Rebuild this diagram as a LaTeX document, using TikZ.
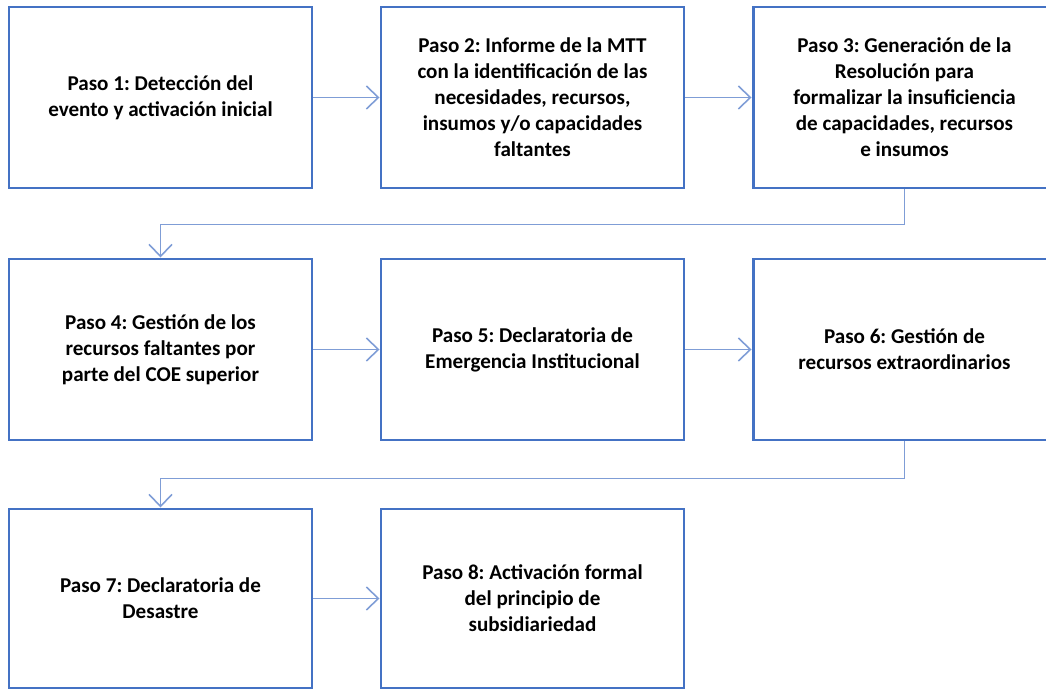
\documentclass[tikz,border=0pt]{standalone}
\usepackage{fontspec}
\setmainfont{Carlito}
\usetikzlibrary{arrows.meta}
\definecolor{boxblue}{HTML}{4472C4}
\definecolor{linkblue}{HTML}{7F9DD6}
\frenchspacing

\begin{document}
\begin{tikzpicture}[font=\fontsize{12}{14.8}\selectfont\bfseries]
\tikzstyle{stepBox}=[draw=boxblue, line width=1.7pt, minimum width=6.06cm, minimum height=3.62cm, align=center, inner sep=2pt]
\tikzstyle{linkArrow}=[draw=linkblue, line width=0.9pt, -{Straight Barb[length=2.4mm, width=4.6mm]}]
\useasboundingbox (0,0) rectangle (20.92,13.82);
\node[stepBox] (p1) at (3.21,11.87) {Paso 1: Detección del\\evento y activación inicial};
\node[stepBox] (p2) at (10.65,11.87) {Paso 2: Informe de la MTT\\con la identificación de las\\necesidades, recursos,\\insumos y/o capacidades\\faltantes};
\node[stepBox] (p3) at (18.09,11.87) {Paso 3: Generación de la\\Resolución para\\formalizar la insuficiencia\\de capacidades, recursos\\e insumos};
\node[stepBox] (p4) at (3.21,6.83) {Paso 4: Gestión de los\\recursos faltantes por\\parte del COE superior};
\node[stepBox] (p5) at (10.65,6.83) {Paso 5: Declaratoria de\\Emergencia Institucional};
\node[stepBox] (p6) at (18.09,6.83) {Paso 6: Gestión de\\recursos extraordinarios};
\node[stepBox, minimum height=3.58cm] (p7) at (3.21,1.85) {Paso 7: Declaratoria de\\Desastre};
\node[stepBox, minimum height=3.58cm] (p8) at (10.65,1.85) {Paso 8: Activación formal\\del principio de\\subsidiariedad};
\draw[linkArrow] (p1) -- (p2);
\draw[linkArrow] (p2) -- (p3);
\draw[linkArrow] (p3.south) -- ++(0,-0.7) -| (p4.north);
\draw[linkArrow] (p4) -- (p5);
\draw[linkArrow] (p5) -- (p6);
\draw[linkArrow] (p6.south) -- ++(0,-0.74) -| (p7.north);
\draw[linkArrow] (p7) -- (p8);
\end{tikzpicture}
\end{document}
